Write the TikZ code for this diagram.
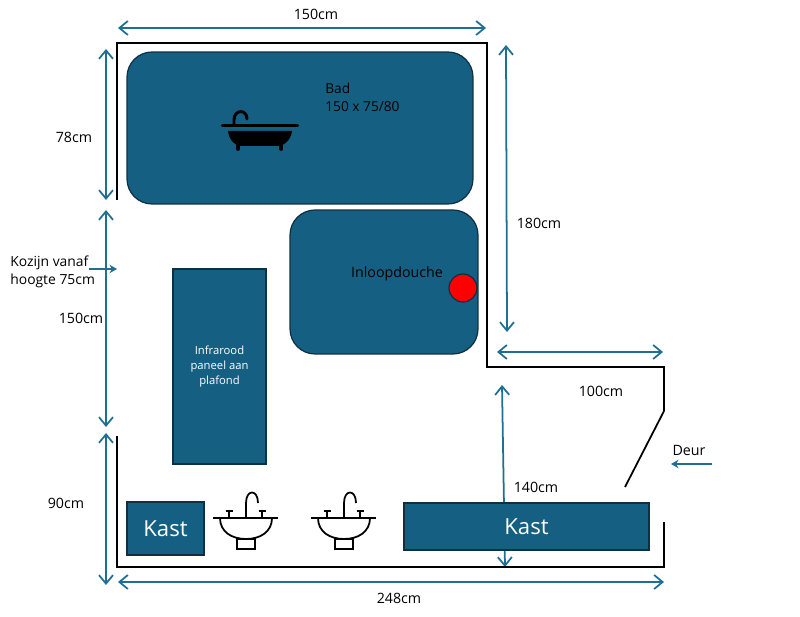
\documentclass[tikz,border=0pt]{standalone}
\usepackage{fontspec}
\setmainfont{Open Sans}
\usetikzlibrary{arrows.meta}
\definecolor{badblue}{HTML}{156082}
\definecolor{dimblue}{HTML}{1F6F94}
\definecolor{edgeblue}{HTML}{0F2F42}
\tikzset{
  blok/.style={draw=edgeblue,line width=0.7pt,fill=badblue,inner sep=0pt},
  rondblok/.style={blok,rounded corners=0.5cm},
  maat/.style={dimblue,line width=1pt,{Straight Barb[length=1.7mm,width=2.8mm]}-{Straight Barb[length=1.7mm,width=2.8mm]}},
  pijl/.style={dimblue,line width=1pt,-{Stealth[length=1.5mm,width=1.7mm]}},
  muur/.style={black,line width=1.2pt},
  tekst/.style={font=\fontsize{8.1}{10.2}\selectfont,inner sep=0pt,text=black},
  icoon/.style={black,line width=1pt,fill=white},
}
\begin{document}
\begin{tikzpicture}[x=0.02cm,y=-0.02cm]
    \useasboundingbox (0,0) rectangle (800,617);
    % dimension arrows
    \foreach \m/\xa/\ya/\xb/\yb in {top/118/28/486/28,links/106/49/106/200,mid/106/210/106/427,onder/106/433/106/585,
      rechts/506/45/507/332,breed/497/352/663/352,kast/502/385/505/567,bodem/118/582/664/582}
    {
      \coordinate (\m a) at (\xa,\ya);
      \coordinate (\m b) at (\xb,\yb);
      \draw[maat] (\m a) -- (\m b);
    }
    % walls
    \draw[muur] (117,200) -- (117,43) -- (487,43) -- (487,367) -- (664,367) -- (664,411);
    \draw[muur,line width=1pt] (664,411) -- (625,487);
    \draw[muur] (117,436) -- (117,567) -- (664,567) -- (664,522);
    % blocks
    \node[rondblok,minimum width=6.92cm,minimum height=3.04cm] (bad) at (300,128) {};
    \node[rondblok,minimum width=3.76cm,minimum height=2.88cm] (douche) at (384,282) {};
    \node[blok,minimum width=1.86cm,minimum height=3.9cm,text=white,align=center,
      font=\fontsize{6.4}{8.6}\selectfont] (paneel) at (219.5,366.5) {Infrarood\\paneel aan\\plafond};
    \node[blok,minimum width=1.54cm,minimum height=1.06cm,text=white,
      font=\fontsize{12.6}{15}\selectfont] (kastl) at (165.5,528.5) {Kast};
    \node[blok,minimum width=4.9cm,minimum height=0.94cm,text=white,
      font=\fontsize{12.6}{15}\selectfont] (kastr) at (526.5,526.5) {Kast};
    \node[draw=edgeblue,line width=0.7pt,fill=red,circle,inner sep=0pt,minimum size=0.56cm] (kraan) at (463,288) {};
    % labels
    \foreach \m/\x/\y/\t in {tbad/325/88/Bad,tmaat/325/107/150 x 75\slash 80}
      \node[tekst,anchor=west,font=\fontsize{7.8}{10}\selectfont] (\m) at (\x,\y) {\t};
    \foreach \m/\x/\y/\t in {ttop/316/14/150cm,tlinks/74/137/78cm,tmid/81/318/150cm,tonder/66/503/90cm,
      trechts/539/223/180cm,tbreed/601/391/100cm,tkast/536/487/140cm,tbodem/399/598/248cm,
      tdeur/689/450/Deur,tdouche/397/274/Inloopdouche}
      \node[tekst] (\m) at (\x,\y) {\t};
    \node[tekst,anchor=north west,align=left,font=\fontsize{7.9}{10.2}\selectfont] (tkozijn) at (10,256) {Kozijn vanaf\\hoogte 75cm};
    \coordinate (kozijna) at (89,269);
    \coordinate (kozijnb) at (117,269);
    \draw[pijl] (kozijna) -- (kozijnb);
    \coordinate (deura) at (712,464);
    \coordinate (deurb) at (671,464);
    \draw[pijl] (deura) -- (deurb);
    % bath icon
    \draw[black,line width=1.7pt,line cap=round] (234,124) -- (234,120) .. controls (234,109) and (247,109) .. (247,119);
    \draw[black,line width=2.2pt,line cap=round] (223,125.5) -- (297,125.5);
    \fill[black] (228,131) -- (292,131) .. controls (291,140) and (284,146) .. (278,146) -- (241,146) .. controls (235,146) and (229,140) .. (228,131) -- cycle;
    \draw[black,line width=2.2pt,line cap=round] (238,146) -- (238,149);
    \draw[black,line width=2.2pt,line cap=round] (281,146) -- (281,149);
    % sinks
    \foreach \n in {0,98}
    {
      \begin{scope}[shift={(\n,0)}]
        \draw[icoon] (237,539) rectangle (255,549);
        \draw[icoon] (220,518) .. controls (220,532) and (232,539) .. (246,539) .. controls (260,539) and (272,532) .. (272,518);
        \draw[black,line width=1pt] (213,518) -- (278,518);
        \draw[black,line width=1pt] (246,518) -- (246,503) .. controls (246,489) and (258,489) .. (258,503);
        \draw[black,line width=1pt] (229,518) -- (229,511) (225.5,511) -- (232.5,511);
        \draw[black,line width=1pt] (262,518) -- (262,511) (258.5,511) -- (265.5,511);
      \end{scope}
    }
\end{tikzpicture}
\end{document}
